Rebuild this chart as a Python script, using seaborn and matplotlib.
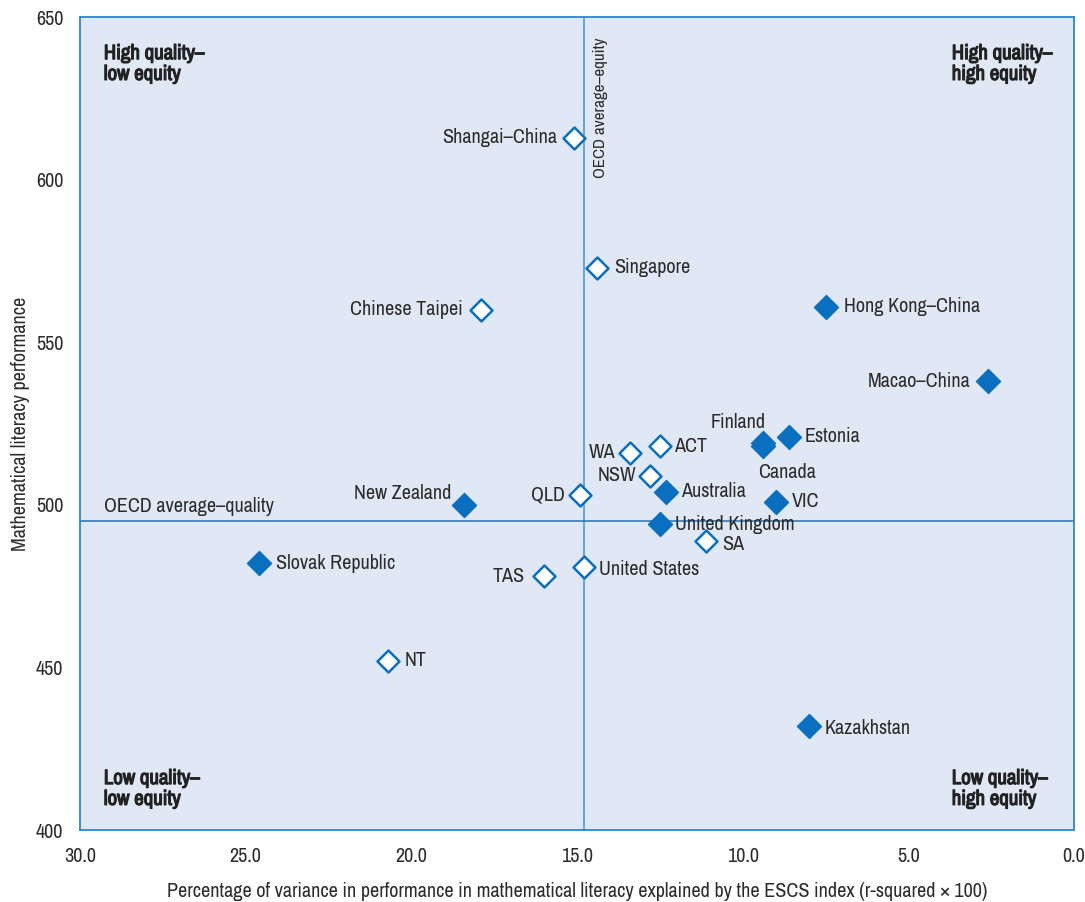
import matplotlib
matplotlib.use("Agg")
import matplotlib.pyplot as plt
from matplotlib import font_manager
from matplotlib import patheffects
import seaborn as sns
import pandas as pd

# ESCS r-squared (x) and mean mathematical literacy score (y)
names = ["Shangai–China", "Singapore", "Chinese Taipei", "Hong Kong–China",
         "Macao–China", "Finland", "Canada", "Estonia", "ACT", "WA", "NSW",
         "Australia", "QLD", "VIC", "New Zealand", "United Kingdom", "SA",
         "Slovak Republic", "United States", "TAS", "NT", "Kazakhstan"]
r_squared = [15.1, 14.4, 17.9, 7.5, 2.6, 9.4, 9.4, 8.6, 12.5, 13.4, 12.8,
             12.3, 14.9, 9.0, 18.4, 12.5, 11.1, 24.6, 14.8, 16.0, 20.7, 8.0]
math_score = [613, 573, 560, 561, 538, 519, 518, 521, 518, 516, 509,
              504, 503, 501, 500, 494, 489, 482, 481, 478, 452, 432]
solid = [False, False, False, True, True, True, True, True, False, False, False,
         True, False, True, True, True, False, True, False, False, False, True]

oecd_equity = 14.8
oecd_quality = 495

df = pd.DataFrame({"name": names, "r2": r_squared, "score": math_score, "solid": solid})

# label placement: (dx, dy) in pixels, horizontal alignment
label_pos = {
    "Shangai–China": (-17, 0, "right"), "Singapore": (17, 0, "left"),
    "Chinese Taipei": (-18, 0, "right"), "Hong Kong–China": (18, 0, "left"),
    "Macao–China": (-17, 0, "right"), "Finland": (-24, 21, "center"),
    "Canada": (24, -26, "center"), "Estonia": (16, 0, "left"),
    "ACT": (14, 0, "left"), "WA": (-15, 0, "right"), "NSW": (-14, 0, "right"),
    "Australia": (15, 0, "left"), "QLD": (-15, 0, "right"), "VIC": (16, 0, "left"),
    "New Zealand": (-13, 11, "right"), "United Kingdom": (15, 0, "left"),
    "SA": (16, -4, "left"), "Slovak Republic": (17, 0, "left"),
    "United States": (15, -3, "left"), "TAS": (-19, 0, "right"),
    "NT": (16, 0, "left"), "Kazakhstan": (16, -3, "left"),
}

sns.set_theme(style="white")


def _is_narrow_name(name):
    low = name.lower()
    if "mono" in low or "serif" in low.replace("sans", ""):
        return False
    return "narrow" in low or "condensed" in low


# a narrow sans face suits the dense labelling
regular = next((f for f in font_manager.fontManager.ttflist if _is_narrow_name(f.name)), None)
if regular is not None:
    plt.rcParams["font.family"] = [regular.name, "DejaVu Sans"]
    FS = 14.5
    QFS = 15
    heavy = [patheffects.withStroke(linewidth=0.85, foreground="#222222")]
else:
    plt.rcParams["font.family"] = ["Roboto", "DejaVu Sans"]
    FS = 12.5
    QFS = 12.5
    heavy = []

TEXT = "#2b2b2b"
BLUE = "#0a6fbf"
SPINE = "#2f86c9"
BG = "#e1e8f5"

fig = plt.figure(figsize=(10.85, 9.02), dpi=100)
ax = fig.add_axes([0.0737, 0.0798, 0.9162, 0.901])
ax.set_facecolor(BG)

ax.axvline(oecd_equity, color="#5a9fd8", lw=1.3, zorder=1)
ax.axhline(oecd_quality, color="#2a6fb0", lw=1.1, zorder=1)

sns.scatterplot(data=df[df.solid], x="r2", y="score", marker="D", s=150,
                color=BLUE, edgecolor=BLUE, linewidth=1, ax=ax, zorder=3)
sns.scatterplot(data=df[~df.solid], x="r2", y="score", marker="D", s=125,
                facecolor="white", edgecolor=BLUE, linewidth=1.8, ax=ax, zorder=3)

for _, row in df.iterrows():
    dx, dy, ha = label_pos[row["name"]]
    ax.annotate(row["name"], (row["r2"], row["score"]),
                xytext=(dx * 0.72, dy * 0.72), textcoords="offset points",
                ha=ha, va="center", fontsize=FS, color=TEXT)

ax.set_xlim(30, 0)
ax.set_ylim(400, 650)
ax.set_xticks([30, 25, 20, 15, 10, 5, 0])
ax.set_xticklabels(["30.0", "25.0", "20.0", "15.0", "10.0", "5.0", "0.0"])
ax.set_yticks([400, 450, 500, 550, 600, 650])

for s in ax.spines.values():
    s.set_color(SPINE)
    s.set_linewidth(1.3)
ax.tick_params(axis="both", direction="out", length=6, width=1.2, color=SPINE,
               labelsize=FS, labelcolor=TEXT, pad=6)

ax.set_xlabel("Percentage of variance in performance in mathematical literacy explained by the ESCS index (r-squared × 100)",
              fontsize=FS, color=TEXT, labelpad=12)
ax.set_ylabel("Mathematical literacy performance", fontsize=FS, color=TEXT, labelpad=4)

quad = dict(fontsize=QFS, fontweight="bold", color="#222222", transform=ax.transAxes,
            linespacing=1.12, path_effects=heavy)
ax.text(0.024, 0.967, "High quality–\nlow equity", ha="left", va="top", **quad)
ax.text(0.877, 0.967, "High quality–\nhigh equity", ha="left", va="top", **quad)
ax.text(0.024, 0.075, "Low quality–\nlow equity", ha="left", va="top", **quad)
ax.text(0.877, 0.075, "Low quality–\nhigh equity", ha="left", va="top", **quad)

ax.annotate("OECD average–quality", (0.024, oecd_quality), xycoords=("axes fraction", "data"),
            xytext=(0, 4), textcoords="offset points", ha="left", va="bottom",
            fontsize=FS, color=TEXT)
ax.annotate("OECD average–equity", (oecd_equity, 0.975), xycoords=("data", "axes fraction"),
            xytext=(7, 0), textcoords="offset points", ha="left", va="top",
            rotation=90, fontsize=FS - 2.3, color=TEXT)

fig.savefig("out.png", dpi=100, facecolor="white")
